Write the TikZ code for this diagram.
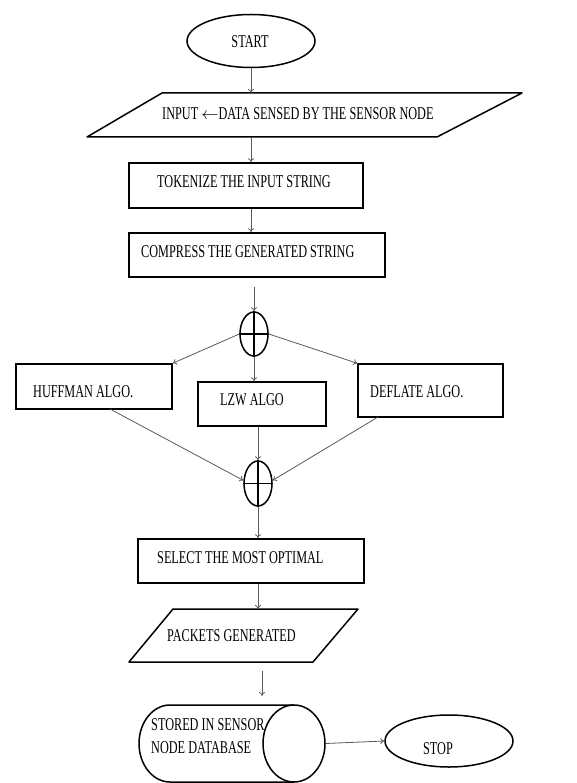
\documentclass[tikz,border=0pt]{standalone}
\usepackage{fontspec}
\setmainfont[FakeStretch=0.68]{Liberation Serif}
\usetikzlibrary{arrows.meta,shapes.geometric}
\begin{document}
\begin{tikzpicture}[x=1pt,y=-1pt,
  shp/.style={draw, line width=1.5pt, line join=round},
  box/.style={draw, line width=1.5pt, rectangle, inner sep=0pt},
  term/.style={draw, line width=1.5pt, ellipse, inner sep=0pt},
  orc/.style={draw, line width=1.5pt, ellipse, inner sep=0pt, minimum width=28pt, minimum height=44pt},
  lbl/.style={font=\fontsize{18}{23}\selectfont, inner sep=0pt, anchor=west},
  conn/.style={draw=black!65, line width=0.8pt, -{To[length=4pt,width=6pt]}},
]
\useasboundingbox (0,0) rectangle (576,783);

% START
\node[term, minimum width=128pt, minimum height=53pt] (start) at (251,41) {};
\node[lbl, anchor=center] (startT) at (250,42) {START};

% INPUT parallelogram
\draw[shp] (87,137) -- (162,93) -- (522,93) -- (437,137) -- cycle;
\coordinate (inTop) at (251,93);
\coordinate (inBot) at (251,137);
\node[lbl] (inputT) at (162,114) {INPUT $\leftarrow$DATA SENSED BY THE SENSOR NODE};

% TOKENIZE
\node[box, minimum width=234pt, minimum height=45pt] (tok) at (246,185.5) {};
\node[lbl] (tokT) at (157,182) {TOKENIZE THE INPUT STRING};

% COMPRESS
\node[box, minimum width=256pt, minimum height=44pt] (comp) at (257,255) {};
\node[lbl] (compT) at (141,252) {COMPRESS THE GENERATED STRING};

% first crossed circle
\node[orc] (or1) at (254,334) {};
\draw[line width=1.5pt] (or1.north) -- (or1.south) (or1.west) -- (or1.east);
\coordinate (c1s) at (254,287);

% algorithms
\node[box, minimum width=156pt, minimum height=45pt] (huff) at (94,386.5) {};
\node[lbl] (huffT) at (33,392) {HUFFMAN ALGO.};
\node[box, minimum width=128pt, minimum height=44pt] (lzw) at (262,404) {};
\node[lbl] (lzwT) at (220,400) {LZW ALGO};
\node[box, minimum width=145pt, minimum height=53pt] (defl) at (430.5,390.5) {};
\node[lbl] (deflT) at (370,392) {DEFLATE ALGO.};

% second crossed circle
\node[orc, minimum height=45pt] (or2) at (258,483.5) {};
\draw[line width=1.5pt] (or2.north) -- (or2.south) (or2.west) -- (or2.east);
\coordinate (hb) at (110,409);
\coordinate (db) at (378,417);

% SELECT
\node[box, minimum width=226pt, minimum height=44pt] (sel) at (251,561) {};
\node[lbl] (selT) at (157,558) {SELECT THE MOST OPTIMAL};

% PACKETS parallelogram
\draw[shp] (129,662) -- (173,609) -- (358,609) -- (313,662) -- cycle;
\coordinate (pkTop) at (258,609);
\coordinate (pkBot) at (258,662);
\node[lbl] (pkT) at (167,636) {PACKETS GENERATED};
\coordinate (fa) at (262,671);
\coordinate (fb) at (262,696);

% database cylinder
\draw[shp] (294,705) -- (170,705) arc[start angle=270, end angle=90, x radius=31, y radius=38.5] -- (294,782);
\node[draw, line width=1.5pt, ellipse, inner sep=0pt, minimum width=62pt, minimum height=77pt] (dbs) at (294,743.5) {};
\node[lbl, align=left] (dbT) at (151,736.5) {STORED IN SENSOR\\NODE DATABASE};

% STOP
\node[term, minimum width=128pt, minimum height=52pt] (stop) at (449,741) {};
\node[lbl, anchor=center] (stopT) at (438,749) {STOP};

% connectors
\draw[conn] (start) -- (inTop);
\draw[conn] (inBot) -- (inBot |- tok.north);
\draw[conn] (tok.south -| inBot) -- (comp.north -| inBot);
\draw[conn] (c1s) -- (or1.north);
\draw[conn] (or1.west) -- (huff.north east);
\draw[conn] (or1.east) -- (defl.north west);
\draw[conn] (or1.south) -- (or1.south |- lzw.north);
\draw[conn] (hb) -- (or2.168);
\draw[conn] (db) -- (or2.12);
\draw[conn] (lzw.south -| or2.north) -- (or2.north);
\draw[conn] (or2.south) -- (or2.south |- sel.north);
\draw[conn] (sel.south -| pkTop) -- (pkTop);
\draw[conn] (fa) -- (fb);
\draw[conn] (dbs.east) -- (stop.west);
\end{tikzpicture}
\end{document}
